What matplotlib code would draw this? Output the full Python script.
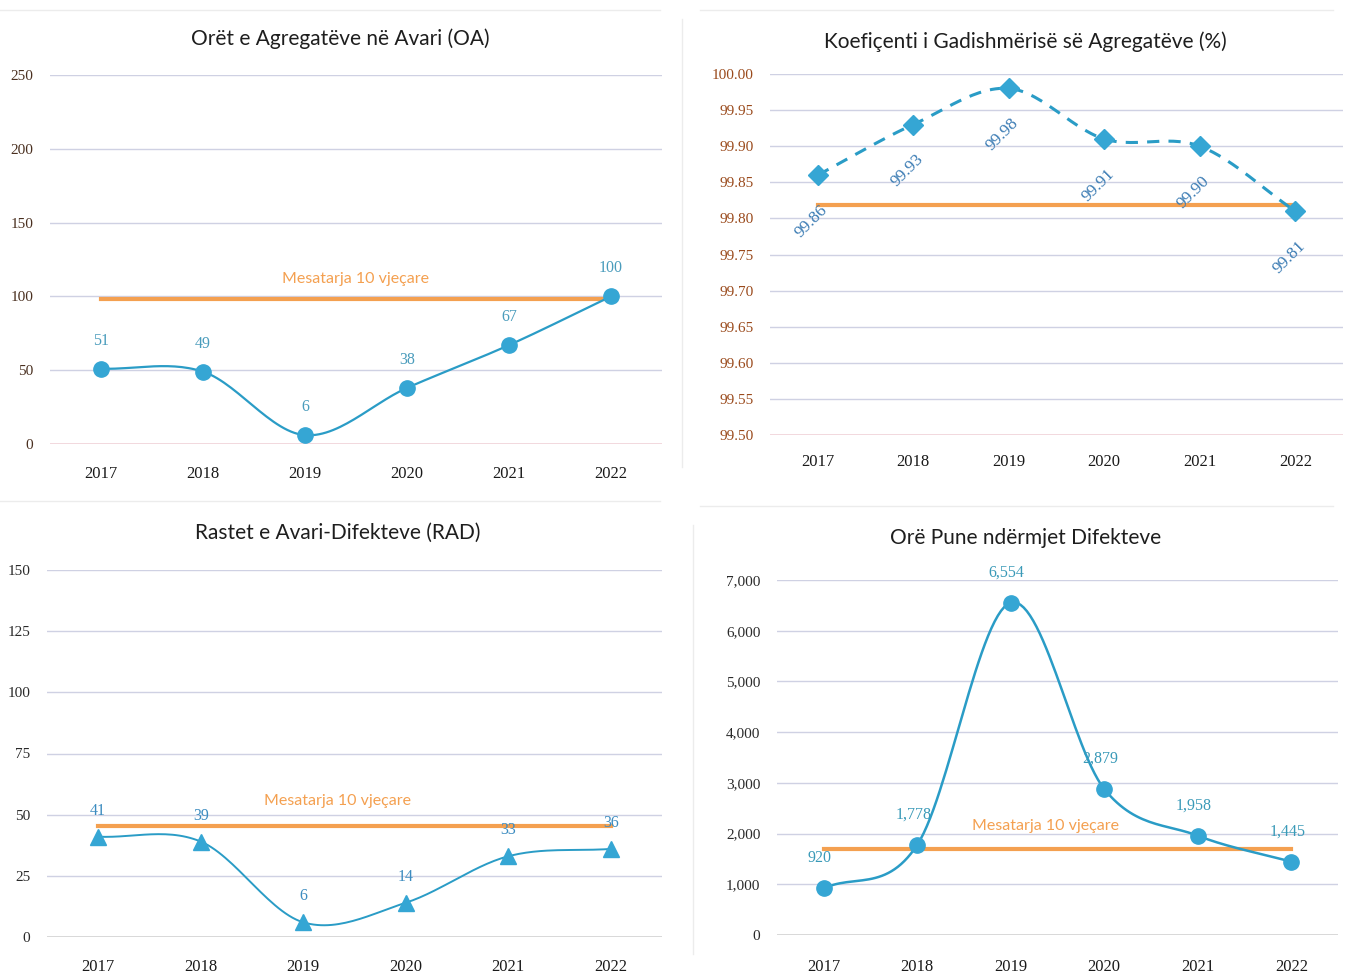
import numpy as np
import matplotlib.pyplot as plt
from matplotlib.lines import Line2D
from matplotlib.ticker import FuncFormatter

# ==========================
# Dados
# ==========================
years = ["2017", "2018", "2019", "2020", "2021", "2022"]

oa_hours = [51, 49, 6, 38, 67, 100]
oa_avg = 98.5

coef_pct = [99.86, 99.93, 99.98, 99.91, 99.90, 99.81]
coef_avg = 99.818

rad_cases = [41, 39, 6, 14, 33, 36]
rad_avg = 45.3

mtbf_hours = [920, 1778, 6554, 2879, 1958, 1445]
mtbf_avg = 1700

avg_label = "Mesatarja 10 vjeçare"

# ==========================
# Estilo
# ==========================
W, H = 1346, 973
series_col = "#2a9cc6"
marker_col = "#35a6d4"
avg_col = "#f4a050"
grid_col = "#cfd1e3"
title_font = "Lato"
num_font = "Liberation Serif"


def smooth(y, n=30):
    # curva suavizada (Catmull-Rom) para o desenho da linha
    y = np.asarray(y, dtype=float)
    x = np.arange(len(y), dtype=float)
    p = np.concatenate([[2 * y[0] - y[1]], y, [2 * y[-1] - y[-2]]])
    xs, ys = [], []
    for i in range(len(y) - 1):
        t = np.linspace(0, 1, n)
        p0, p1, p2, p3 = p[i], p[i + 1], p[i + 2], p[i + 3]
        seg = 0.5 * ((2 * p1) + (-p0 + p2) * t
                     + (2 * p0 - 5 * p1 + 4 * p2 - p3) * t ** 2
                     + (-p0 + 3 * p1 - 3 * p2 + p3) * t ** 3)
        xs.append(x[i] + t)
        ys.append(seg)
    return np.concatenate(xs), np.concatenate(ys)


def setup(ax, ylim, ticks, zero_col, tick_col, fmt=None, year_pad=10):
    ax.set_xlim(-0.5, 5.5)
    ax.set_ylim(*ylim)
    ax.set_yticks(ticks)
    for t in ticks:
        ax.axhline(t, color=zero_col if t == ticks[0] else grid_col,
                   lw=1.0, zorder=0)
    for s in ax.spines.values():
        s.set_visible(False)
    ax.set_xticks(range(len(years)))
    ax.set_xticklabels(years)
    ax.tick_params(length=0)
    ax.tick_params(axis="x", pad=year_pad, labelsize=12,
                   labelcolor="#1a1a1a")
    ax.tick_params(axis="y", pad=12, labelsize=11, labelcolor=tick_col)
    for lab in ax.get_xticklabels() + ax.get_yticklabels():
        lab.set_fontfamily(num_font)
    if fmt:
        ax.yaxis.set_major_formatter(FuncFormatter(fmt))
    ax.set_facecolor("none")


def axes_px(left, top, right, bottom):
    return [left / W, 1 - bottom / H, (right - left) / W, (bottom - top) / H]


fig = plt.figure(figsize=(W / 100, H / 100), dpi=100)
fig.patch.set_facecolor("white")

# linhas de separação dos painéis
for coords in [([0.0, 0.49], [0.99, 0.99]), ([0.52, 0.99], [0.99, 0.99]),
               ([0.0, 0.49], [0.485, 0.485]), ([0.52, 0.99], [0.48, 0.48]),
               ([0.507, 0.507], [0.52, 0.98]), ([0.515, 0.515], [0.02, 0.46])]:
    fig.add_artist(Line2D(coords[0], coords[1], color="#ececec", lw=1.0))

x = np.arange(len(years))

# ==========================
# Orët e Agregatëve në Avari (OA)
# ==========================
ax1 = fig.add_axes(axes_px(50, 75, 662, 444))
setup(ax1, (0, 250), [0, 50, 100, 150, 200, 250], "#c0405a", "#4a3020",
      year_pad=16)
ax1.plot([0, 5], [oa_avg, oa_avg], color=avg_col, lw=3, zorder=2)
ax1.text(2.5, 112, avg_label, color=avg_col, fontsize=11.5,
         family=title_font, ha="center", va="center")
sx, sy = smooth(oa_hours)
ax1.plot(sx, sy, color=series_col, lw=1.6, zorder=3)
ax1.plot(x, oa_hours, "o", color=marker_col, ms=11, zorder=4)
for xi, v in zip(x, oa_hours):
    ax1.annotate(str(v), (xi, v), xytext=(0, 28), textcoords="offset pixels",
                 ha="center", va="center", color="#4a9cbc", fontsize=11.5,
                 family=num_font)
fig.text(340 / W, 1 - 39 / H, "Orët e Agregatëve në Avari (OA)",
         ha="center", va="center", fontsize=15, family=title_font,
         color="#1e1e1e")

# ==========================
# Koefiçenti i Gadishmërisë së Agregatëve (%)
# ==========================
ax2 = fig.add_axes(axes_px(770, 74, 1343, 435))
setup(ax2, (99.50, 100.00), list(np.round(np.arange(99.50, 100.001, 0.05), 2)),
      "#c0405a", "#9a4a1c", fmt=lambda v, p: f"{v:.2f}", year_pad=14)
ax2.plot([0, 5], [coef_avg, coef_avg], color=avg_col, lw=3, zorder=2)
sx, sy = smooth(coef_pct)
ax2.plot(sx, sy, color=series_col, lw=2.2, ls=(0, (4, 3)), zorder=3)
ax2.plot(x, coef_pct, "D", color=marker_col, ms=10, zorder=4)
for xi, v in zip(x, coef_pct):
    ax2.annotate(f"{v:.2f}", (xi, v), xytext=(-6, -46),
                 textcoords="offset pixels", ha="center", va="center",
                 rotation=45, color="#3c7cb4", fontsize=12.5, family=num_font)
fig.text(1025 / W, 1 - 42 / H, "Koefiçenti i Gadishmërisë së Agregatëve (%)",
         ha="center", va="center", fontsize=15, family=title_font,
         color="#1e1e1e")

# ==========================
# Rastet e Avari-Difekteve (RAD)
# ==========================
ax3 = fig.add_axes(axes_px(47, 570, 662, 937))
setup(ax3, (0, 150), [0, 25, 50, 75, 100, 125, 150], "#404040", "#2a2a2a",
      year_pad=16)
ax3.plot([0, 5], [rad_avg, rad_avg], color=avg_col, lw=3, zorder=2)
ax3.text(2.33, 55.5, avg_label, color=avg_col, fontsize=11.5,
         family=title_font, ha="center", va="center")
sx, sy = smooth(rad_cases)
ax3.plot(sx, sy, color=series_col, lw=1.4, zorder=3)
ax3.plot(x, rad_cases, "^", color=marker_col, ms=12, zorder=4)
for xi, v in zip(x, rad_cases):
    ax3.annotate(str(v), (xi, v), xytext=(0, 26), textcoords="offset pixels",
                 ha="center", va="center", color="#3c8cc0", fontsize=11.5,
                 family=num_font)
fig.text(338 / W, 1 - 533 / H, "Rastet e Avari-Difekteve (RAD)",
         ha="center", va="center", fontsize=15, family=title_font,
         color="#1e1e1e")

# ==========================
# Orë Pune ndërmjet Difekteve
# ==========================
ax4 = fig.add_axes(axes_px(777, 580, 1338, 935))
setup(ax4, (0, 7000), list(range(0, 7001, 1000)), "#404040", "#2a2a2a",
      fmt=lambda v, p: f"{int(v):,}", year_pad=17)
ax4.plot([0, 5], [mtbf_avg, mtbf_avg], color=avg_col, lw=3, zorder=2)
ax4.text(2.37, 2150, avg_label, color=avg_col, fontsize=11.5,
         family=title_font, ha="center", va="center")
sx, sy = smooth(mtbf_hours)
ax4.plot(sx, sy, color=series_col, lw=1.8, zorder=3)
ax4.plot(x, mtbf_hours, "o", color=marker_col, ms=11, zorder=4)
for xi, v in zip(x, mtbf_hours):
    ax4.annotate(f"{v:,}", (xi, v), xytext=(-4, 30),
                 textcoords="offset pixels", ha="center", va="center",
                 color="#3a9ab8", fontsize=11.5, family=num_font)
fig.text(1026 / W, 1 - 538 / H, "Orë Pune ndërmjet Difekteve",
         ha="center", va="center", fontsize=15, family=title_font,
         color="#1e1e1e")

plt.savefig("out.png", dpi=100)
plt.close()
